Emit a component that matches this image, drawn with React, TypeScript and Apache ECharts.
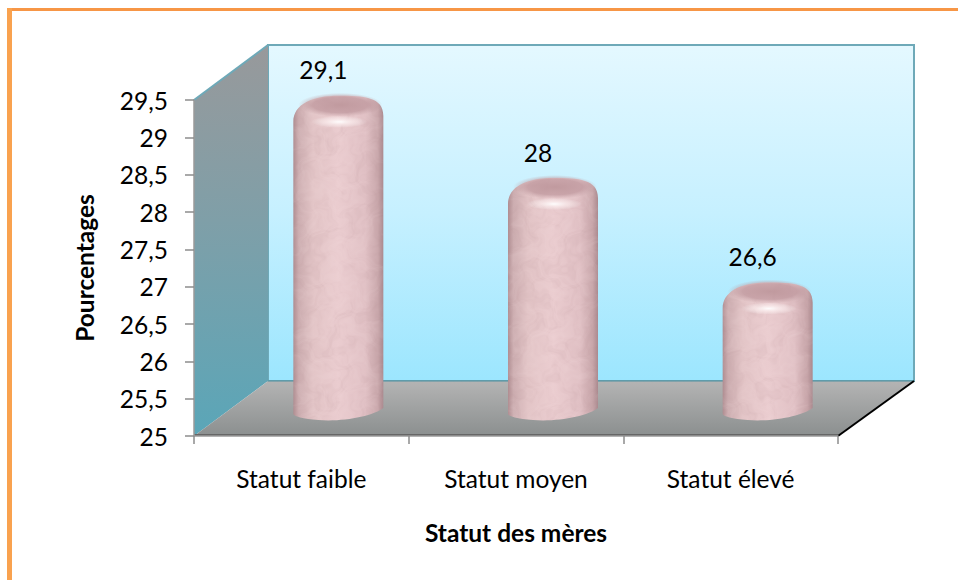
import React, { useEffect, useRef } from "react";
import * as echarts from "echarts";

const categories = ["Statut faible", "Statut moyen", "Statut élevé"];
const values = [29.1, 28, 26.6];
const yMin = 25;
const yMax = 29.5;
const yStep = 0.5;
const yName = "Pourcentages";
const xName = "Statut des mères";
const FONT = "Lato, Carlito, 'Noto Sans', sans-serif";
const FS = 24.5;
const comma = (v: number) => String(v).replace(".", ",");

function mottled(): string {
  const s = 256;
  const c = document.createElement("canvas");
  c.width = s;
  c.height = s;
  const g = c.getContext("2d")!;
  const img = g.createImageData(s, s);
  const t = (2 * Math.PI) / s;
  for (let y = 0; y < s; y++) {
    for (let x = 0; x < s; x++) {
      const wx = x + 22 * Math.sin(t * (3 * y + x)) + 11 * Math.sin(t * (7 * y - 2 * x) + 1.1) + 5 * Math.sin(t * (17 * y + 5 * x) + 2.3);
      const wy = y + 22 * Math.sin(t * (4 * x - y) + 0.6) + 11 * Math.sin(t * (9 * x + 3 * y) + 2.7) + 5 * Math.sin(t * (19 * x - 6 * y) + 4.1);
      const n =
        Math.sin(t * (3 * wx + 2 * wy)) +
        Math.sin(t * (5 * wx - 4 * wy) + 1.3) * 0.8 +
        Math.sin(t * (11 * wx + 8 * wy) + 2.1) * 0.55 +
        Math.sin(t * (17 * wx - 13 * wy) + 0.4) * 0.35 +
        Math.sin(t * (29 * wx + 23 * wy) + 4.2) * 0.2;
      const k = (n + 2.9) / 5.8;
      const i = (y * s + x) * 4;
      const dark = k < 0.5;
      img.data[i] = dark ? 165 : 255;
      img.data[i + 1] = dark ? 125 : 238;
      img.data[i + 2] = dark ? 130 : 238;
      img.data[i + 3] = Math.abs(k - 0.5) * 170;
    }
  }
  g.putImageData(img, 0, 0);
  return c.toDataURL();
}

const lin = (x: number, y: number, x2: number, y2: number, stops: [number, string][]) =>
  new echarts.graphic.LinearGradient(x, y, x2, y2, stops.map(([offset, color]) => ({ offset, color })));
const rad = (stops: [number, string][]) =>
  new echarts.graphic.RadialGradient(0.5, 0.5, 0.5, stops.map(([offset, color]) => ({ offset, color })));

export default function App() {
  const ref = useRef<HTMLDivElement>(null);
  useEffect(() => {
    document.body.style.margin = "0";
    const chart = echarts.init(ref.current!, null, { renderer: "svg" });
    const tex = mottled();
    const wallGrad = lin(0, 0, 0, 1, [[0, "#e4f8ff"], [0.5, "#c6f0ff"], [1, "#9ce6fe"]]);
    const sideGrad = lin(0, 0, 0, 1, [[0, "#98999b"], [0.45, "#7f9fa8"], [1, "#5aa6b8"]]);
    const floorGrad = lin(0, 0, 0, 1, [[0, "#b4b4b4"], [1, "#8b8f8f"]]);
    chart.setOption({
      animation: false,
      backgroundColor: "#ffffff",
      grid: { left: 194, right: 120, top: 100, bottom: 144 },
      graphic: [
        { type: "rect", z: 0, shape: { x: 7, y: 8, width: 951, height: 3 }, style: { fill: "#f79646" } },
        { type: "rect", z: 0, shape: { x: 7, y: 8, width: 5, height: 572 }, style: { fill: "#f9a24f" } },
        {
          type: "polygon", z: 0,
          shape: { points: [[268, 45], [914, 45], [914, 381], [268, 381]] },
          style: { fill: wallGrad, stroke: "#6ea9b8", lineWidth: 2 },
        },
        {
          type: "polygon", z: 0,
          shape: { points: [[194, 100], [268, 45], [268, 381], [194, 436]] },
          style: { fill: sideGrad },
        },
        { type: "line", z: 0, shape: { x1: 194, y1: 100, x2: 268, y2: 45 }, style: { stroke: "#6ea9b8", lineWidth: 2 } },
        {
          type: "polygon", z: 0,
          shape: { points: [[194, 436], [268, 381], [914, 381], [838, 436]] },
          style: { fill: floorGrad },
        },
        { type: "line", z: 0, shape: { x1: 268, y1: 381, x2: 914, y2: 381 }, style: { stroke: "#4f8f9f", lineWidth: 1 } },
        { type: "line", z: 0, shape: { x1: 838, y1: 436, x2: 914, y2: 381 }, style: { stroke: "#000000", lineWidth: 2 } },
        { type: "line", z: 0, shape: { x1: 194, y1: 435, x2: 838, y2: 435 }, style: { stroke: "#666666", lineWidth: 2 } },
      ],
      xAxis: {
        type: "category",
        data: categories,
        z: 3,
        axisLine: { lineStyle: { color: "#9a9a9a", width: 1.5 } },
        axisTick: { show: true, length: 8, alignWithLabel: false, lineStyle: { color: "#8c8c8c", width: 1.5 } },
        axisLabel: { color: "#000", fontFamily: FONT, fontSize: FS, margin: 30 },
        name: xName,
        nameLocation: "middle",
        nameGap: 84,
        nameTextStyle: { color: "#000", fontFamily: FONT, fontSize: FS, fontWeight: "bold" },
      },
      yAxis: {
        type: "value",
        min: yMin,
        max: yMax,
        interval: yStep,
        z: 3,
        axisLine: { show: true, lineStyle: { color: "#9a9a9a", width: 1.5 } },
        axisTick: { show: true, length: 9, lineStyle: { color: "#8c8c8c", width: 1.5 } },
        splitLine: { show: false },
        axisLabel: { color: "#000", fontFamily: FONT, fontSize: FS, margin: 26, formatter: (v: number) => comma(v) },
        name: yName,
        nameLocation: "middle",
        nameGap: 97,
        nameRotate: 90,
        nameTextStyle: { color: "#000", fontFamily: FONT, fontSize: FS, fontWeight: "bold" },
      },
      series: [
        {
          type: "custom",
          z: 5,
          data: values.map((v, i) => [i, v]),
          encode: { x: 0, y: 1 },
          renderItem: (_p: any, api: any) => {
            const i = api.value(0);
            const v = api.value(1);
            const [x0, yTop] = api.coord([i, v]);
            const [, yBase] = api.coord([i, yMin]);
            const cx = x0 + 37;
            const T = yTop - 34;
            const B = yBase - 16;
            const d =
              `M${cx - 45} ${T + 26} C${cx - 45} ${T + 8} ${cx - 25} ${T} ${cx} ${T} ` +
              `C${cx + 25} ${T} ${cx + 45} ${T + 1} ${cx + 45} ${T + 20} L${cx + 45} ${B - 12} ` +
              `C${cx + 35} ${B - 4} ${cx + 5} ${B + 2} ${cx - 20} ${B} C${cx - 35} ${B - 1} ${cx - 45} ${B - 4} ${cx - 45} ${B - 6} Z`;
            return {
              type: "group",
              children: [
                {
                  type: "path",
                  shape: { pathData: d },
                  style: {
                    fill: lin(0, 0, 1, 0, [
                      [0, "#b08e92"], [0.06, "#cdaeb1"], [0.22, "#e2c4c6"], [0.5, "#eacccf"],
                      [0.8, "#e0c0c4"], [0.94, "#c8a6aa"], [1, "#ab8a8f"],
                    ]),
                  },
                },
                { type: "path", shape: { pathData: d }, style: { fill: { image: tex, repeat: "repeat", imageWidth: 256, imageHeight: 256 }, opacity: 0.35 } },
                {
                  type: "ellipse",
                  shape: { cx: cx + 2, cy: T + 9, rx: 42, ry: 12 },
                  style: { fill: rad([[0, "rgba(185,145,150,0.85)"], [0.65, "rgba(188,148,154,0.7)"], [1, "rgba(195,160,165,0)"]]) },
                },
                {
                  type: "ellipse",
                  shape: { cx: cx + 1, cy: T + 26, rx: 28, ry: 6 },
                  style: { fill: rad([[0, "rgba(255,255,255,0.95)"], [0.5, "rgba(255,245,245,0.55)"], [1, "rgba(255,255,255,0)"]]) },
                },
                {
                  type: "text",
                  style: {
                    x: x0 + 22,
                    y: yTop - 60,
                    text: comma(v),
                    fill: "#000",
                    font: `${FS}px ${FONT}`,
                    align: "center",
                    verticalAlign: "middle",
                  },
                },
              ],
            };
          },
        },
      ],
    });
    return () => chart.dispose();
  }, []);
  return <div ref={ref} style={{ width: 958, height: 580 }} />;
}
